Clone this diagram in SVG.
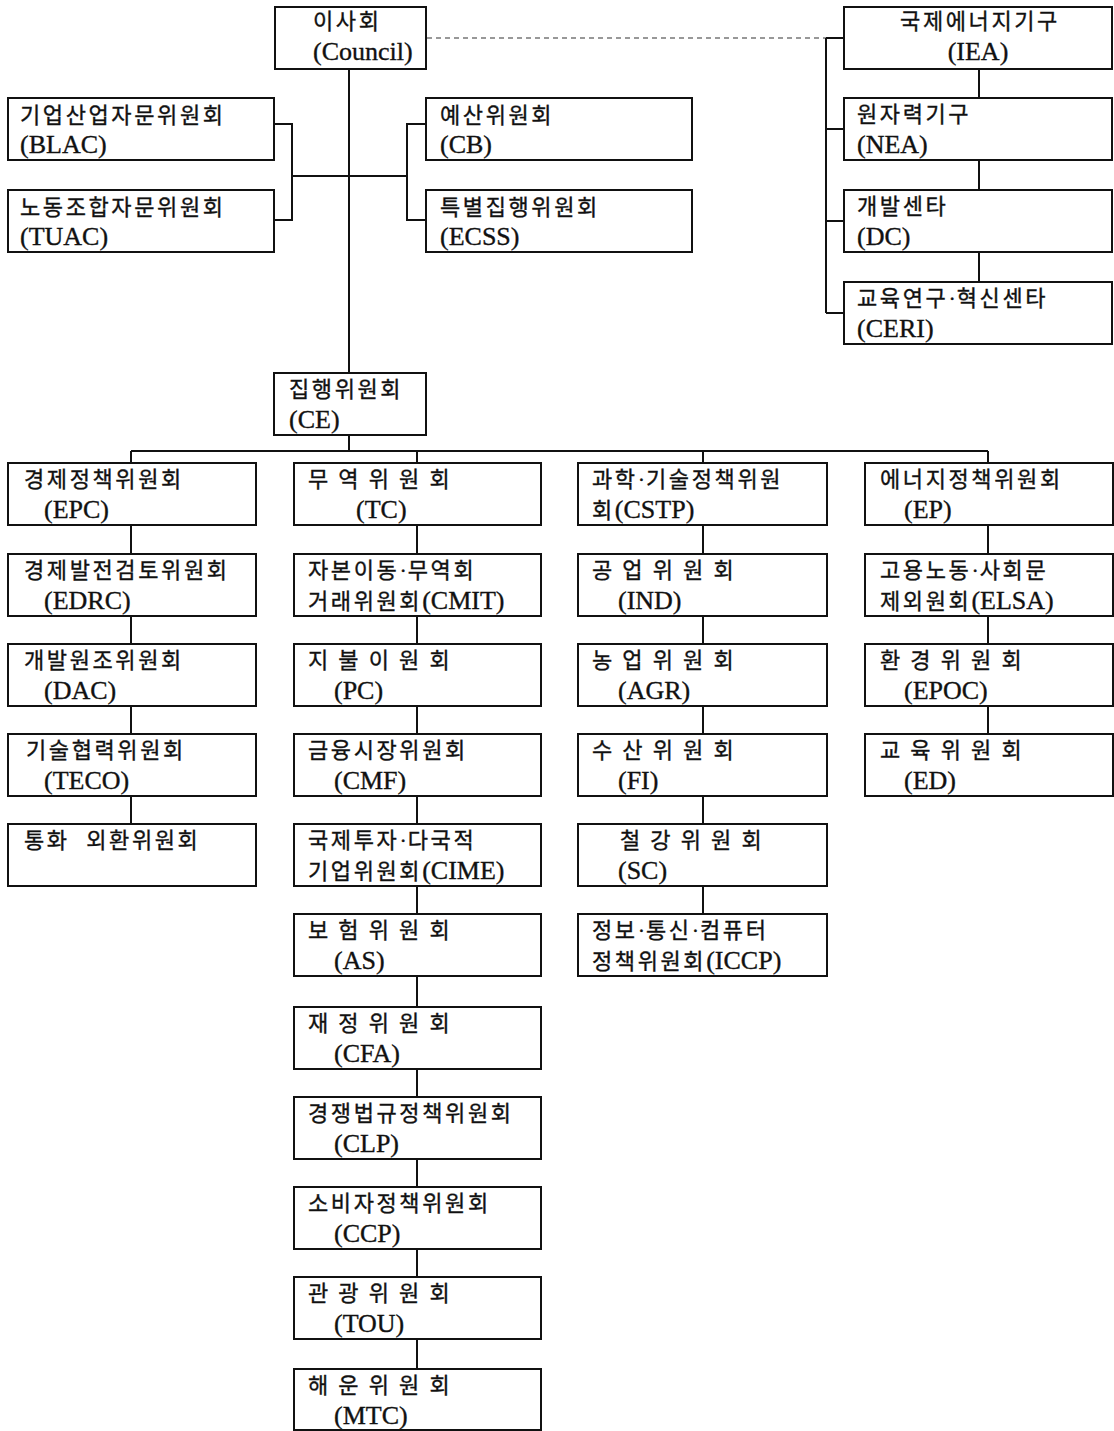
<svg xmlns="http://www.w3.org/2000/svg" width="1114" height="1431" viewBox="0 0 1114 1431">
<style>
.b{fill:#fff;stroke:#111;stroke-width:2}
.k{font-family:"Noto Sans CJK KR","Liberation Serif",sans-serif;font-size:22px;letter-spacing:2.6px;fill:#111;stroke:#111;stroke-width:0.35px}
.l{font-family:"Liberation Serif","Noto Sans CJK KR",serif;font-size:26px;letter-spacing:0;fill:#111;stroke:#111;stroke-width:0.35px}
.p{font-family:"Liberation Serif",serif;letter-spacing:1px}
.w{word-spacing:9px}
.c{stroke:#111;stroke-width:2;fill:none}
.d{stroke:#333;stroke-width:1.2;fill:none;stroke-dasharray:5 4}
.m{text-anchor:middle}
</style>
<rect width="1114" height="1431" fill="#fff"/>
<g id="connectors">
<line class="d" x1="427" y1="38" x2="826" y2="38"/>
<path class="c" d="M349 69V373M292 176H407M274 124H292V220H274M426 124H407V220H426"/>
<path class="c" d="M826 38V313M826 38H844M826 129H844M826 221H844M826 313H844M979 69V98M979 160V190M979 252V282"/>
<path class="c" d="M349 435V451M131 451H988M131 451V463M417 451V463M703 451V463M988 451V463"/>
<path class="c" d="M131 525V554M131 616V644M131 706V734M131 796V824"/>
<path class="c" d="M417 525V554M417 616V644M417 706V734M417 796V824M417 886V914M417 976V1007M417 1069V1097M417 1159V1187M417 1249V1277M417 1339V1369"/>
<path class="c" d="M703 525V554M703 616V644M703 706V734M703 796V824M703 886V914"/>
<path class="c" d="M988 525V554M988 616V644M988 706V734"/>
</g>
<g id="council"><rect class="b" x="275" y="7" width="151" height="62"/><text class="k" x="313" y="29">이사회</text><text class="l" x="313" y="60">(Council)</text></g>
<g id="blac"><rect class="b" x="8" y="98" width="266" height="62"/><text class="k" x="20" y="123">기업산업자문위원회</text><text class="l" x="20" y="153">(BLAC)</text></g>
<g id="tuac"><rect class="b" x="8" y="190" width="266" height="62"/><text class="k" x="20" y="215">노동조합자문위원회</text><text class="l" x="20" y="245">(TUAC)</text></g>
<g id="cb"><rect class="b" x="426" y="98" width="266" height="62"/><text class="k" x="440" y="123">예산위원회</text><text class="l" x="440" y="153">(CB)</text></g>
<g id="ecss"><rect class="b" x="426" y="190" width="266" height="62"/><text class="k" x="440" y="215">특별집행위원회</text><text class="l" x="440" y="245">(ECSS)</text></g>
<g id="iea"><rect class="b" x="844" y="7" width="268" height="62"/><text class="k m" x="980" y="29">국제에너지기구</text><text class="l m" x="978" y="60">(IEA)</text></g>
<g id="nea"><rect class="b" x="844" y="98" width="268" height="62"/><text class="k" x="857" y="122">원자력기구</text><text class="l" x="857" y="153">(NEA)</text></g>
<g id="dc"><rect class="b" x="844" y="190" width="268" height="62"/><text class="k" x="857" y="214">개발센타</text><text class="l" x="857" y="245">(DC)</text></g>
<g id="ceri"><rect class="b" x="844" y="282" width="268" height="62"/><text class="k" x="857" y="306">교육연구<tspan class="p">·</tspan>혁신센타</text><text class="l" x="857" y="337">(CERI)</text></g>
<g id="ce"><rect class="b" x="274" y="373" width="152" height="62"/><text class="k" x="289" y="397">집행위원회</text><text class="l" x="289" y="428">(CE)</text></g>

<g id="epc"><rect class="b" x="8" y="463" width="248" height="62"/><text class="k" x="24" y="487">경제정책위원회</text><text class="l" x="44" y="518">(EPC)</text></g>
<g id="edrc"><rect class="b" x="8" y="554" width="248" height="62"/><text class="k" x="24" y="578">경제발전검토위원회</text><text class="l" x="44" y="609">(EDRC)</text></g>
<g id="dac"><rect class="b" x="8" y="644" width="248" height="62"/><text class="k" x="24" y="668">개발원조위원회</text><text class="l" x="44" y="699">(DAC)</text></g>
<g id="teco"><rect class="b" x="8" y="734" width="248" height="62"/><text class="k" x="26" y="758">기술협력위원회</text><text class="l" x="44" y="789">(TECO)</text></g>
<g id="currency"><rect class="b" x="8" y="824" width="248" height="62"/><text class="k w" x="24" y="848">통화 외환위원회</text></g>

<g id="tc"><rect class="b" x="294" y="463" width="247" height="62"/><text class="k" x="308" y="487">무 역 위 원 회</text><text class="l" x="356" y="518">(TC)</text></g>
<g id="cmit"><rect class="b" x="294" y="554" width="247" height="62"/><text class="k" x="308" y="578">자본이동<tspan class="p">·</tspan>무역회</text><text class="k" x="308" y="609">거래위원회<tspan class="l">(CMIT)</tspan></text></g>
<g id="pc"><rect class="b" x="294" y="644" width="247" height="62"/><text class="k" x="308" y="668">지 불 이 원 회</text><text class="l" x="334" y="699">(PC)</text></g>
<g id="cmf"><rect class="b" x="294" y="734" width="247" height="62"/><text class="k" x="308" y="758">금융시장위원회</text><text class="l" x="334" y="789">(CMF)</text></g>
<g id="cime"><rect class="b" x="294" y="824" width="247" height="62"/><text class="k" x="308" y="848">국제투자<tspan class="p">·</tspan>다국적</text><text class="k" x="308" y="879">기업위원회<tspan class="l">(CIME)</tspan></text></g>
<g id="as"><rect class="b" x="294" y="914" width="247" height="62"/><text class="k" x="308" y="938">보 험 위 원 회</text><text class="l" x="334" y="969">(AS)</text></g>
<g id="cfa"><rect class="b" x="294" y="1007" width="247" height="62"/><text class="k" x="308" y="1031">재 정 위 원 회</text><text class="l" x="334" y="1062">(CFA)</text></g>
<g id="clp"><rect class="b" x="294" y="1097" width="247" height="62"/><text class="k" x="308" y="1121">경쟁법규정책위원회</text><text class="l" x="334" y="1152">(CLP)</text></g>
<g id="ccp"><rect class="b" x="294" y="1187" width="247" height="62"/><text class="k" x="308" y="1211">소비자정책위원회</text><text class="l" x="334" y="1242">(CCP)</text></g>
<g id="tou"><rect class="b" x="294" y="1277" width="247" height="62"/><text class="k" x="308" y="1301">관 광 위 원 회</text><text class="l" x="334" y="1332">(TOU)</text></g>
<g id="mtc"><rect class="b" x="294" y="1369" width="247" height="61"/><text class="k" x="308" y="1393">해 운 위 원 회</text><text class="l" x="334" y="1424">(MTC)</text></g>

<g id="cstp"><rect class="b" x="578" y="463" width="249" height="62"/><text class="k" x="592" y="487">과학<tspan class="p">·</tspan>기술정책위원</text><text class="k" x="592" y="518">회<tspan class="l">(CSTP)</tspan></text></g>
<g id="ind"><rect class="b" x="578" y="554" width="249" height="62"/><text class="k" x="592" y="578">공 업 위 원 회</text><text class="l" x="618" y="609">(IND)</text></g>
<g id="agr"><rect class="b" x="578" y="644" width="249" height="62"/><text class="k" x="592" y="668">농 업 위 원 회</text><text class="l" x="618" y="699">(AGR)</text></g>
<g id="fi"><rect class="b" x="578" y="734" width="249" height="62"/><text class="k" x="592" y="758">수 산 위 원 회</text><text class="l" x="618" y="789">(FI)</text></g>
<g id="sc"><rect class="b" x="578" y="824" width="249" height="62"/><text class="k" x="620" y="848">철 강 위 원 회</text><text class="l" x="618" y="879">(SC)</text></g>
<g id="iccp"><rect class="b" x="578" y="914" width="249" height="62"/><text class="k" x="592" y="938">정보<tspan class="p">·</tspan>통신<tspan class="p">·</tspan>컴퓨터</text><text class="k" x="592" y="969">정책위원회<tspan class="l">(ICCP)</tspan></text></g>

<g id="ep"><rect class="b" x="865" y="463" width="248" height="62"/><text class="k" x="880" y="487">에너지정책위원회</text><text class="l" x="904" y="518">(EP)</text></g>
<g id="elsa"><rect class="b" x="865" y="554" width="248" height="62"/><text class="k" x="880" y="578">고용노동<tspan class="p">·</tspan>사회문</text><text class="k" x="880" y="609">제외원회<tspan class="l">(ELSA)</tspan></text></g>
<g id="epoc"><rect class="b" x="865" y="644" width="248" height="62"/><text class="k" x="880" y="668">환 경 위 원 회</text><text class="l" x="904" y="699">(EPOC)</text></g>
<g id="ed"><rect class="b" x="865" y="734" width="248" height="62"/><text class="k" x="880" y="758">교 육 위 원 회</text><text class="l" x="904" y="789">(ED)</text></g>
</svg>
